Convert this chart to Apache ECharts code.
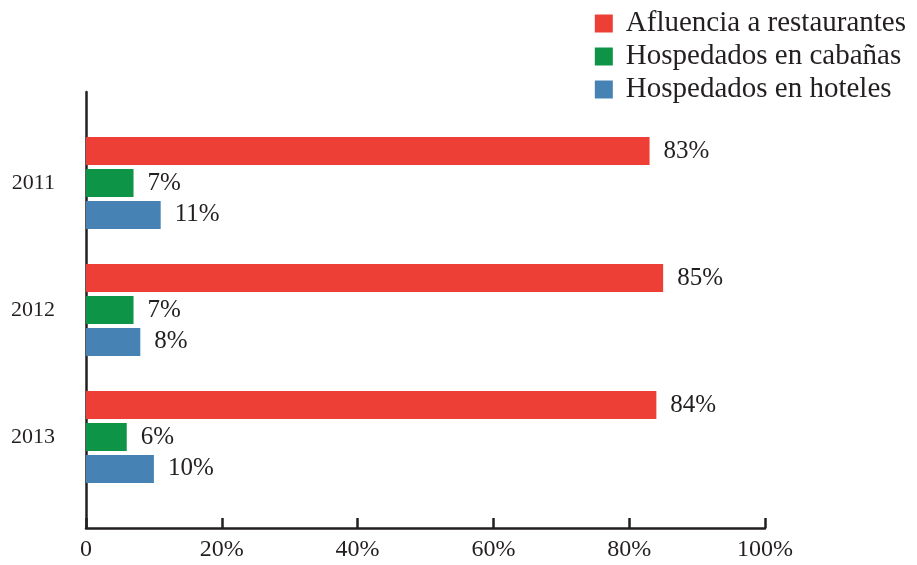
<!DOCTYPE html>
<html>
<head>
<meta charset="utf-8">
<script src="https://cdn.jsdelivr.net/npm/echarts@6/dist/echarts.min.js"></script>
<style>html,body{margin:0;padding:0;background:#fff}#c{width:917px;height:565px}</style>
</head>
<body>
<div id="c"></div>
<script>
const years = ['2011', '2012', '2013'];
const seriesNames = ['Afluencia a restaurantes', 'Hospedados en cabañas', 'Hospedados en hoteles'];
const restaurantes = [83, 85, 84];
const cabanas = [7, 7, 6];
const hoteles = [11, 8, 10];
const xTicks = [0, 20, 40, 60, 80, 100];

const FONT = '"Liberation Serif", "DejaVu Serif", serif';
const INK = '#231F20';
const colors = ['#EE3F36', '#0E9447', '#4682B4'];

const chart = echarts.init(document.getElementById('c'), null, {renderer: 'canvas'});

function barSeries(name, data, color) {
  return {
    name: name, type: 'bar', xAxisIndex: 1, yAxisIndex: 1,
    data: data, barWidth: 28, barGap: '14%',
    itemStyle: {color: color},
    label: {show: true, position: 'right', distance: 14, formatter: '{c}%',
      fontFamily: FONT, fontSize: 25, color: INK},
    emphasis: {disabled: true}
  };
}

chart.setOption({
  animation: false,
  backgroundColor: '#fff',
  color: colors,
  legend: {
    orient: 'vertical', right: 6, top: 4,
    itemWidth: 18, itemHeight: 18, itemGap: 4,
    icon: 'rect',
    textStyle: {fontFamily: FONT, fontSize: 29, color: INK, lineHeight: 29, padding: [0, 0, 0, 8]},
    data: seriesNames
  },
  grid: [
    {left: 86, right: 152, top: 92, bottom: 37},
    {left: 86, right: 152, top: 119.5, height: 381}
  ],
  xAxis: [
    {type: 'value', gridIndex: 0, min: xTicks[0], max: xTicks[xTicks.length - 1], interval: 20,
      splitLine: {show: false},
      axisLine: {show: true, lineStyle: {color: INK, width: 2.5}},
      axisTick: {show: true, inside: true, length: 10, lineStyle: {color: INK, width: 2.5}},
      axisLabel: {margin: 10, fontFamily: FONT, fontSize: 24, color: INK,
        formatter: v => v === 0 ? '0' : v + '%'}},
    {type: 'value', gridIndex: 1, min: 0, max: 100, show: false}
  ],
  yAxis: [
    {type: 'category', gridIndex: 0, data: years, inverse: true,
      axisLine: {show: true, lineStyle: {color: INK, width: 2.5}},
      axisTick: {show: false}, axisLabel: {show: false}},
    {type: 'category', gridIndex: 1, data: years, inverse: true,
      axisLine: {show: false}, axisTick: {show: false},
      axisLabel: {margin: 31, fontFamily: FONT, fontSize: 22, color: INK, padding: [4, 0, 0, 0]}}
  ],
  series: [
    barSeries(seriesNames[0], restaurantes, colors[0]),
    barSeries(seriesNames[1], cabanas, colors[1]),
    barSeries(seriesNames[2], hoteles, colors[2])
  ]
});
</script>
</body>
</html>
